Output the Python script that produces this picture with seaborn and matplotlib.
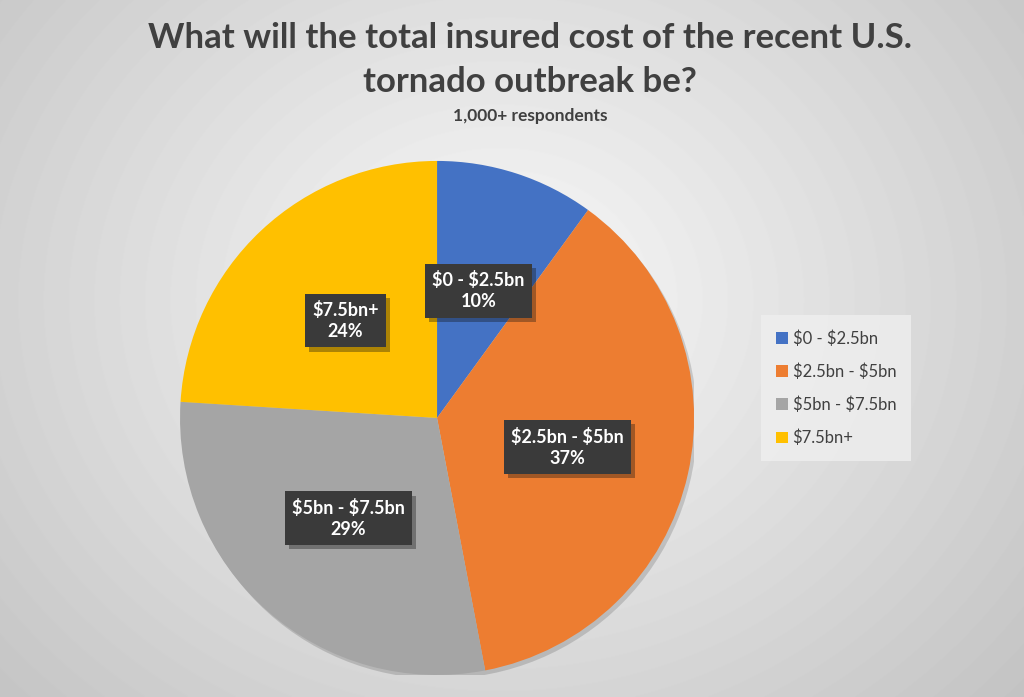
import seaborn as sns
import matplotlib.pyplot as plt
import matplotlib.patheffects as pe
from matplotlib.patches import Circle
import numpy as np

sns.set_theme(style="white")
plt.rcParams['font.family'] = ['Lato', 'DejaVu Sans']
plt.rcParams['text.parse_math'] = False

# data
categories = ['$0 - $2.5bn', '$2.5bn - $5bn', '$5bn - $7.5bn', '$7.5bn+']
shares = [10, 37, 29, 24]
colors = ['#4472c4', '#ed7d31', '#a5a5a5', '#ffc000']

fig = plt.figure(figsize=(10.24, 6.97), dpi=100)

# radial gradient background
bg = fig.add_axes([0, 0, 1, 1])
yy, xx = np.mgrid[0:697, 0:1024]
dist = np.sqrt(((xx - 500) / 700.0) ** 2 + ((yy - 300) / 600.0) ** 2)
shade = np.clip(250 - 55 * dist, 195, 250) / 255.0
bg.imshow(shade, cmap='gray', vmin=0, vmax=1, aspect='auto')
bg.axis('off')

# pie
ax = fig.add_axes([0.1758, 0.0316, 0.502, 0.7375])
shadow = Circle((0.012, -0.015), 1.0, facecolor='black', alpha=0.15, edgecolor='none', zorder=0)
ax.add_patch(shadow)
wedges, texts = ax.pie(shares, colors=colors, startangle=90, counterclock=False,
                       wedgeprops=dict(linewidth=0))
ax.set_xlim(-1, 1)
ax.set_ylim(-1, 1)
ax.axis('off')

# data labels in dark boxes
total = sum(shares)
cum = 0
for cat, val in zip(categories, shares):
    mid = 90 - 360 * (cum + val / 2) / total
    cum += val
    r = 0.52
    x, y = r * np.cos(np.radians(mid)), r * np.sin(np.radians(mid))
    t = ax.text(x, y, f"{cat}\n{val}%", ha='center', va='center', color='white',
                fontsize=13, fontweight='bold', linespacing=1.3,
                bbox=dict(boxstyle='square,pad=0.4', facecolor='#3a3a3a', edgecolor='none'))
    t.get_bbox_patch().set_path_effects([pe.SimplePatchShadow(offset=(3, -3), alpha=0.35), pe.Normal()])

# legend
leg = fig.legend(wedges, categories, loc='center left', bbox_to_anchor=(0.735, 0.443),
                 frameon=True, fontsize=12, handlelength=0.7, handleheight=0.7,
                 handletextpad=0.3, labelspacing=1.0, borderpad=0.9, fancybox=False)
leg.get_frame().set_facecolor('#efefef')
leg.get_frame().set_edgecolor('none')
for txt in leg.get_texts():
    txt.set_color('#404040')

# titles
fig.text(0.518, 0.945, 'What will the total insured cost of the recent U.S.',
         ha='center', va='center', fontsize=25, fontweight='bold', color='#404040')
fig.text(0.518, 0.882, 'tornado outbreak be?',
         ha='center', va='center', fontsize=25, fontweight='bold', color='#404040')
fig.text(0.518, 0.833, '1,000+ respondents',
         ha='center', va='center', fontsize=12.5, fontweight='bold', color='#404040')

fig.savefig('out.png', dpi=100)
